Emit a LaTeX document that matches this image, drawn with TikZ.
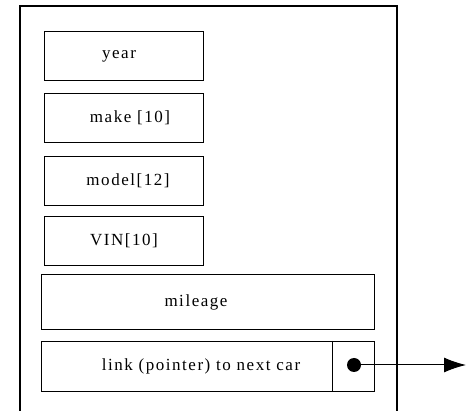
\documentclass[tikz,border=0pt]{standalone}
\usepackage{fontspec}
\setmainfont{Liberation Serif}
\newfontfamily\fieldfont{Liberation Serif}[LetterSpace=9]
\usetikzlibrary{arrows.meta}

\begin{document}
\begin{tikzpicture}[x=1pt,y=-1pt,
		field/.style={draw,line width=1pt,inner sep=0pt,anchor=north west,
			minimum width=159pt,minimum height=49pt,font=\fieldfont\fontsize{17}{17}\selectfont},
		wide/.style={field,minimum width=333pt,minimum height=55pt}]
	\useasboundingbox (0,0) rectangle (469,411);
	\clip (0,0) rectangle (469,411);
	% the car record
	\draw[line width=1.3pt] (20,6) rectangle (397,430);
	\node[field] (year) at (44,31) {year\kern10pt};
	\node[field] (make) at (44,93) {\kern12pt make [10]};
	\node[field] (model) at (44,156) {\kern8pt model[12]};
	\node[field] (vin) at (44,216) {VIN[10]};
	\node[wide] (mileage) at (41,274) {mileage\kern24pt};
	\node[wide,minimum height=50pt] (link) at (41,341) {};
	\node[font=\fieldfont\fontsize{17}{17}\selectfont] (linktext) at (201,366) {link (pointer) to next car};
	\draw[line width=1pt] (332,341) -- (332,391);
	% pointer to the next record
	\node[circle,fill,inner sep=0pt,minimum size=14pt] (ptr) at (354,365) {};
	\coordinate (next) at (466,365);
	\draw[line width=1pt,-{Latex[length=22pt,width=15pt]}] (ptr.center) -- (next);
\end{tikzpicture}
\end{document}
